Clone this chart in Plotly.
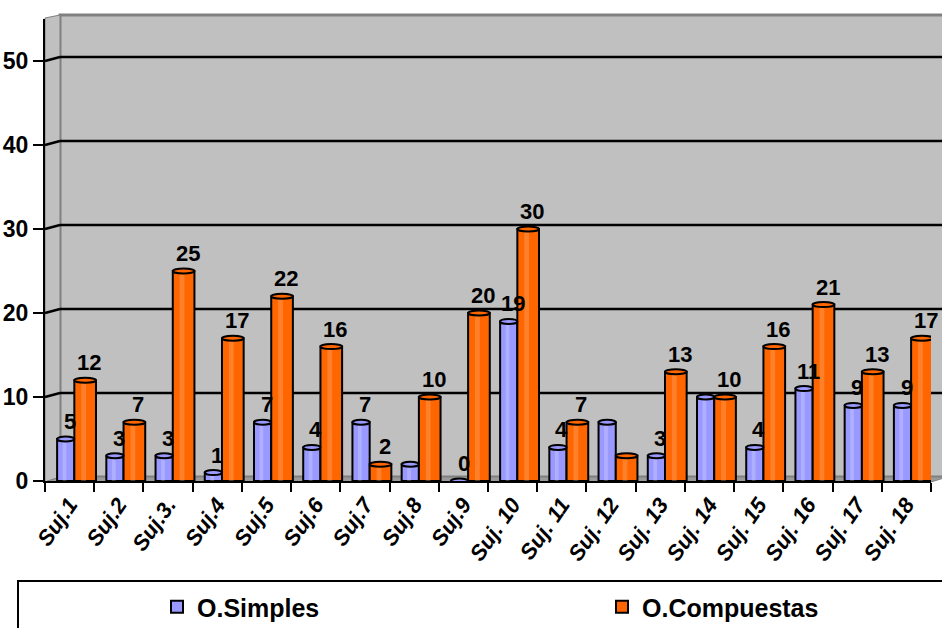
import plotly.graph_objects as go

# ---- data ----
categories = ["Suj.1", "Suj.2", "Suj.3.", "Suj.4", "Suj.5", "Suj.6", "Suj.7", "Suj.8",
              "Suj.9", "Suj. 10", "Suj. 11", "Suj. 12", "Suj. 13", "Suj. 14", "Suj. 15",
              "Suj. 16", "Suj. 17", "Suj. 18"]
simples = [5, 3, 3, 1, 7, 4, 7, 2, 0, 19, 4, 7, 3, 10, 4, 11, 9, 9]
compuestas = [12, 7, 25, 17, 22, 16, 2, 10, 20, 30, 7, 3, 13, 10, 16, 21, 13, 17]
y_ticks = [0, 10, 20, 30, 40, 50]

# value labels that are left out (hidden behind neighbouring bars)
hide_simples = {7, 11, 13}
hide_compuestas = {11}

BLUE = "#9999FF"
ORANGE = "#FF6600"
FONT = "Liberation Sans, Arial, sans-serif"

# plot area geometry (px) used to place the 3-D walls in paper units
W, H = 942, 628
L, R, T, B = 45, 11, 19, 147
PW, PH = W - L - R, H - T - B
Y_MAX = 55


def px(xp):
    return (xp - L) / PW


def py(yp):
    return (H - B - yp) / PH


DX, DY = 15, 4  # depth offset of the back wall

# bar geometry per series (offset / width in category units)
series = [
    dict(name="O.Simples", vals=simples, color=BLUE, shine="rgba(255,255,255,0.22)",
         off=-0.254, wid=0.35, hide=hide_simples, lw=400),
    dict(name="O.Compuestas", vals=compuestas, color=ORANGE, shine="rgba(255,190,140,0.30)",
         off=0.096, wid=0.44, hide=hide_compuestas, lw=200),
]

fig = go.Figure()
for s in series:
    fig.add_trace(go.Bar(
        x=categories, y=s["vals"], name=s["name"],
        marker=dict(color=s["color"], line=dict(color="black", width=2)),
        offset=s["off"], width=s["wid"], legendwidth=s["lw"],
    ))
    # soft vertical highlight giving the cylinders some roundness
    fig.add_trace(go.Bar(
        x=categories, y=s["vals"], showlegend=False, hoverinfo="skip",
        marker=dict(color=s["shine"], line=dict(width=0)),
        offset=s["off"] + s["wid"] * 0.32, width=s["wid"] * 0.22,
    ))

shapes = []
# back wall, side wall and floor
shapes.append(dict(type="rect", xref="paper", yref="paper", layer="below",
                   x0=px(L + DX), x1=px(W + 5), y0=py(H - B - DY), y1=py(15),
                   fillcolor="#C0C0C0", line=dict(color="#808080", width=3)))
shapes.append(dict(type="path", xref="paper", yref="paper", layer="below",
                   path=f"M {px(L)} {py(H - B + 1)} L {px(L)} {py(18)} L {px(L + DX)} {py(15)} "
                        f"L {px(L + DX)} {py(H - B - DY)} Z",
                   fillcolor="#C0C0C0", line=dict(color="#808080", width=1)))
shapes.append(dict(type="path", xref="paper", yref="paper", layer="below",
                   path=f"M {px(L)} {py(H - B + 1)} L {px(L + DX)} {py(H - B - DY)} "
                        f"L {px(W + 5)} {py(H - B - DY)} L {px(W - R)} {py(H - B + 1)} Z",
                   fillcolor="#9A9A9A", line=dict(color="#808080", width=1)))
# gridlines on the back wall and the side wall
for v in y_ticks[1:]:
    yb = v / Y_MAX + DY / PH
    shapes.append(dict(type="line", xref="paper", yref="paper", layer="below",
                       x0=px(L + DX), x1=px(W + 5), y0=yb, y1=yb,
                       line=dict(color="black", width=2.5)))
    shapes.append(dict(type="line", xref="paper", yref="paper", layer="below",
                       x0=0, x1=px(L + DX), y0=v / Y_MAX, y1=yb,
                       line=dict(color="black", width=2.5)))

# cylinder tops and value labels
annotations = []
for s in series:
    for i, v in enumerate(s["vals"]):
        x0 = i + s["off"]
        x1 = x0 + s["wid"]
        shapes.append(dict(type="circle", xref="x", yref="y",
                           x0=x0, x1=x1, y0=v - 0.3, y1=v + 0.3,
                           fillcolor=s["color"], line=dict(color="black", width=2)))
        if i not in s["hide"]:
            annotations.append(dict(x=(x0 + x1) / 2, y=v, xref="x", yref="y",
                                    text=str(v), showarrow=False, yanchor="bottom",
                                    xshift=4, yshift=3,
                                    font=dict(family=FONT, size=22, color="black", weight="bold")))

# legend frame
shapes.append(dict(type="rect", xref="paper", yref="paper",
                   x0=px(18), x1=px(W + 5), y0=py(H + 5), y1=py(581),
                   line=dict(color="black", width=2), fillcolor="rgba(0,0,0,0)"))

fig.update_layout(
    width=W, height=H,
    margin=dict(l=L, r=R, t=T, b=B, pad=0, autoexpand=False),
    paper_bgcolor="white", plot_bgcolor="rgba(0,0,0,0)",
    barmode="overlay",
    shapes=shapes, annotations=annotations,
    font=dict(family=FONT, color="black"),
    legend=dict(orientation="h", x=px(157), y=py(607), xanchor="left", yanchor="middle",
                font=dict(family=FONT, size=25, color="black", weight="bold"),
                bgcolor="rgba(0,0,0,0)", itemclick=False),
    xaxis=dict(type="category", range=[-0.5, 17.5], tickson="boundaries",
               ticks="outside", ticklen=9, tickwidth=2, tickcolor="black",
               showline=True, linecolor="black", linewidth=2,
               showgrid=False, zeroline=False, tickangle=-55, automargin=False,
               tickfont=dict(family=FONT, size=22, color="black", weight="bold", style="italic")),
    yaxis=dict(range=[0, Y_MAX], tickvals=y_ticks,
               ticks="outside", ticklen=10, tickwidth=2, tickcolor="black",
               showline=True, linecolor="black", linewidth=2,
               showgrid=False, zeroline=False, automargin=False,
               tickfont=dict(family=FONT, size=23, color="black", weight="bold")),
)

fig.write_html("out.html")
